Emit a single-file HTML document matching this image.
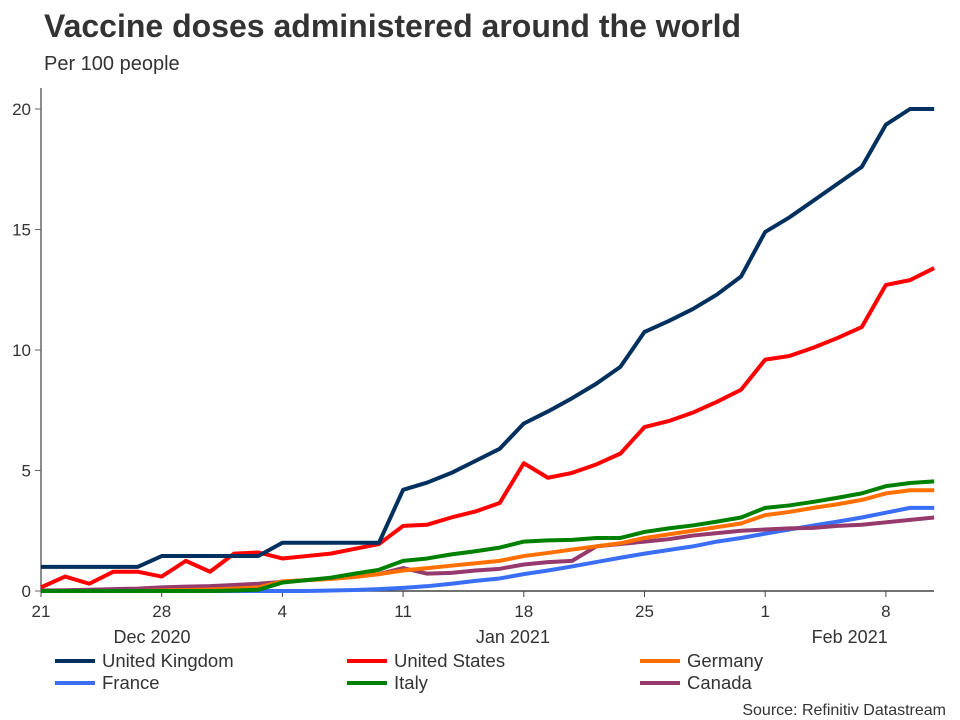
<!DOCTYPE html>
<html><head><meta charset="utf-8"><style>
body{margin:0;background:#fff;font-family:"Liberation Sans",Arial,sans-serif;}
svg{display:block}
</style></head><body>
<svg id="c" width="960" height="720">
<text x="44" y="37" font-size="32" font-weight="bold" fill="#333">Vaccine doses administered around the world</text>
<text x="44" y="70" font-size="20" fill="#333">Per 100 people</text>
<text x="946" y="715" font-size="16" fill="#333" text-anchor="end">Source: Refinitiv Datastream</text>
<g id="axes"></g><g id="series"></g><g id="legend"></g>
</svg>
<script>
const xTickLabels=["21","28","4","11","18","25","1","8"];
const xTickIndex=[0,5,10,15,20,25,30,35];
const monthLabels=["Dec 2020","Jan 2021","Feb 2021"];
const monthIndex=[4.6,19.55,33.5];
const yTicks=[0,5,10,15,20];
const seriesNames=["United Kingdom","United States","Germany","France","Italy","Canada"];
const seriesColors=["#00305e","#ff0000","#ff7000","#3a6ff5","#008000","#963a6e"];
const uk=[1,1,1,1,1,1.45,1.45,1.45,1.45,1.45,2,2,2,2,2,4.2,4.5,4.9,5.4,5.9,6.95,7.45,8,8.6,9.3,10.75,11.2,11.7,12.3,13.05,14.9,15.5,16.2,16.9,17.6,19.35,20,20];
const us=[0.15,0.6,0.3,0.8,0.8,0.6,1.25,0.8,1.55,1.6,1.35,1.45,1.55,1.75,1.95,2.7,2.75,3.05,3.3,3.65,5.3,4.7,4.9,5.25,5.7,6.8,7.05,7.4,7.85,8.35,9.6,9.75,10.1,10.5,10.95,12.7,12.9,13.4];
const germany=[0,0,0,0,0,0.02,0.04,0.06,0.1,0.15,0.4,0.45,0.5,0.58,0.7,0.85,0.95,1.05,1.15,1.25,1.45,1.58,1.72,1.85,1.98,2.2,2.35,2.5,2.65,2.8,3.15,3.28,3.45,3.6,3.78,4.05,4.18,4.18];
const france=[0,0,0,0,0,0,0,0,0,0,0,0,0.02,0.04,0.08,0.13,0.2,0.3,0.42,0.52,0.7,0.85,1.02,1.2,1.38,1.55,1.7,1.85,2.05,2.2,2.38,2.55,2.72,2.88,3.05,3.25,3.45,3.45];
const italy=[0,0,0,0,0,0,0,0,0.02,0.05,0.35,0.45,0.55,0.72,0.88,1.25,1.35,1.52,1.65,1.8,2.05,2.1,2.12,2.2,2.2,2.45,2.6,2.72,2.88,3.05,3.45,3.55,3.7,3.87,4.05,4.35,4.48,4.55];
const canada=[0.02,0.03,0.05,0.08,0.1,0.15,0.18,0.2,0.25,0.3,0.38,0.45,0.52,0.6,0.7,0.95,0.72,0.75,0.85,0.92,1.1,1.2,1.25,1.85,1.95,2.05,2.15,2.3,2.4,2.5,2.55,2.6,2.62,2.7,2.75,2.85,2.95,3.05];
const allSeries=[uk,us,germany,france,italy,canada];
const drawOrder=[3,5,2,4,1,0];
const NS="http://www.w3.org/2000/svg";
const X=i=>41+24.14*i, Y=v=>591-24.1*v;
function mk(t,a,p){const e=document.createElementNS(NS,t);for(const k in a)e.setAttribute(k,a[k]);p.appendChild(e);return e;}
const ax=document.getElementById('axes');
let l=mk('line',{x1:41,y1:88,x2:41,y2:591,stroke:'#666','stroke-width':1.5},ax);


l=mk('line',{x1:41,y1:591,x2:934,y2:591,stroke:'#444','stroke-width':1.5},ax);


yTicks.forEach(v=>{
 mk('line',{x1:35,y1:Y(v),x2:41,y2:Y(v),stroke:'#666'},ax);
 const t=mk('text',{x:31,y:Y(v)+6,'font-size':17,fill:'#333','text-anchor':'end'},ax);
 t.textContent=v;
 
 
});
xTickIndex.forEach((idx,k)=>{
 mk('line',{x1:X(idx),y1:591,x2:X(idx),y2:597,stroke:'#444'},ax);
 const t=mk('text',{x:X(idx),y:617,'font-size':17,fill:'#333','text-anchor':'middle'},ax);
 t.textContent=xTickLabels[k];
 
 
});
monthLabels.forEach((m,k)=>{
 const t=mk('text',{x:X(monthIndex[k]),y:643,'font-size':18,fill:'#333','text-anchor':'middle'},ax);
 t.textContent=m;
 
 
});
const sg=document.getElementById('series');
drawOrder.forEach(s=>{
 const p=mk('polyline',{points:allSeries[s].map((v,i)=>X(i)+','+Y(v)).join(' '),fill:'none',stroke:seriesColors[s],'stroke-width':4,'stroke-linejoin':'round'},sg);
 
 
});
const lg=document.getElementById('legend');
const lx=[55,347,640];
seriesNames.forEach((n,s)=>{
 const x=lx[s%3], y=s<3?661:683;
 const g=mk('g',{},lg);
 
 
 mk('line',{x1:x,y1:y,x2:x+40,y2:y,stroke:seriesColors[s],'stroke-width':4},g);
 const t=mk('text',{x:x+47,y:y+6,'font-size':18.5,fill:'#333'},g);
 t.textContent=n;
});
</script>
</body></html>
